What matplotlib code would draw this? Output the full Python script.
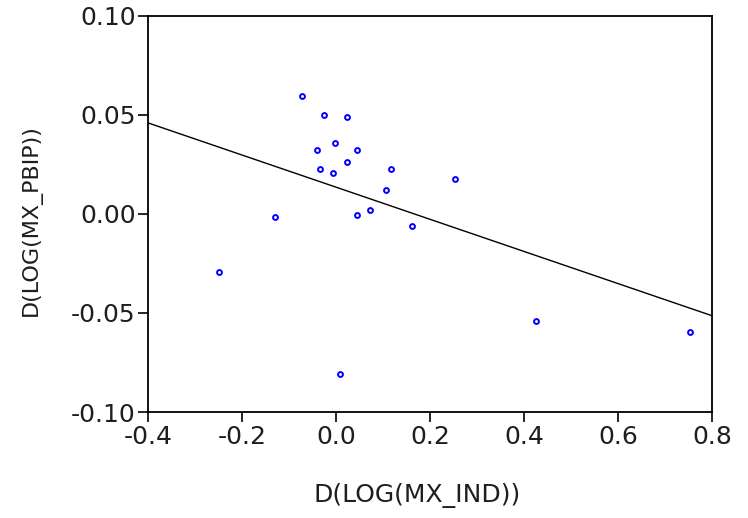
import numpy as np
import matplotlib
matplotlib.use("Agg")
import matplotlib.pyplot as plt

# Observaciones
d_log_mx_ind = [-0.072, -0.026, 0.024, -0.002, -0.041, 0.045, 0.024, -0.033,
                -0.006, 0.116, 0.253, 0.107, -0.130, 0.045, 0.072, 0.162,
                -0.250, 0.008, 0.425, 0.753]
d_log_mx_pbip = [0.0594, 0.0500, 0.0491, 0.0360, 0.0322, 0.0325, 0.0261, 0.0227,
                 0.0206, 0.0226, 0.0178, 0.0123, -0.0015, -0.0005, 0.0020, -0.0061,
                 -0.0291, -0.0810, -0.0539, -0.0597]

x_ticks = [-0.4, -0.2, 0.0, 0.2, 0.4, 0.6, 0.8]
y_ticks = [-0.10, -0.05, 0.00, 0.05, 0.10]

x = np.array(d_log_mx_ind)
y = np.array(d_log_mx_pbip)

# recta de regresion MCO
b, a = np.polyfit(x, y, 1)
xl = np.array([x_ticks[0], x_ticks[-1]])

fig = plt.figure(figsize=(7.48, 5.18), dpi=100)
ax = fig.add_axes([148 / 748, 1 - 412 / 518, 564 / 748, 396 / 518])

ax.plot(xl, a + b * xl, color='black', linewidth=1.0)
ax.plot(x, y, linestyle='none', marker='o', markersize=3.5,
        markerfacecolor='none', markeredgecolor='#0000ff', markeredgewidth=1.4)

ax.set_xlim(x_ticks[0], x_ticks[-1])
ax.set_ylim(y_ticks[0], y_ticks[-1])
ax.set_xticks(x_ticks)
ax.set_yticks(y_ticks)
ax.set_xticklabels([f'{v:.1f}' for v in x_ticks])
ax.set_yticklabels([f'{v:.2f}' for v in y_ticks])

for s in ax.spines.values():
    s.set_linewidth(1.3)
ax.tick_params(direction='out', length=7, width=1.2, labelsize=18,
               labelcolor='#1e1e1e')
ax.tick_params(axis='x', pad=2)
ax.tick_params(axis='y', pad=2)

ax.set_xlabel('D(LOG(MX_IND))', fontsize=18, color='#1e1e1e')
ax.set_ylabel('D(LOG(MX_PBIP))', fontsize=16, color='#1e1e1e')
ax.xaxis.set_label_coords(0.477, -0.18)
ax.yaxis.set_label_coords(-0.188, 0.485)

fig.savefig('out.png', dpi=100)
